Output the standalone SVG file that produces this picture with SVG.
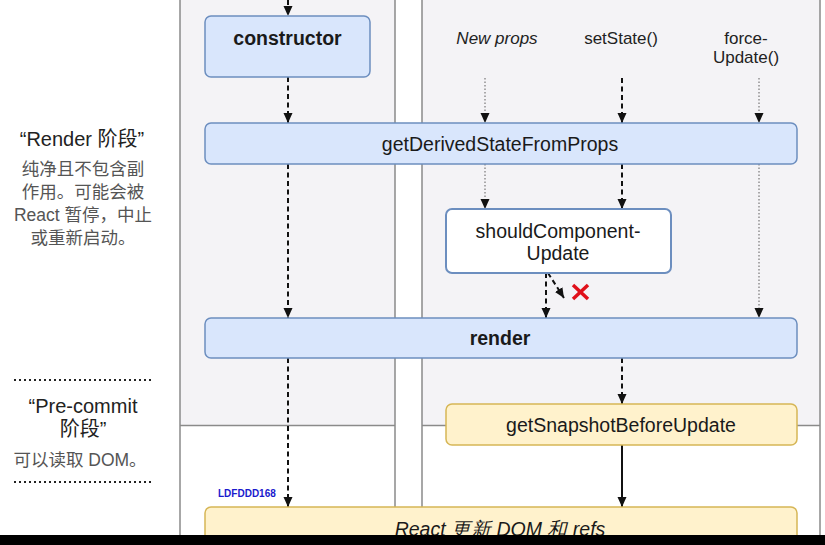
<svg xmlns="http://www.w3.org/2000/svg" width="825" height="545" viewBox="0 0 825 545">
<style>
.panel{fill:#f4f3f6}
.pline{stroke:#8a8a8a;stroke-width:1.5;fill:none}
.blue{fill:#d9e6fc;stroke:#6c8ebf;stroke-width:1.5}
.white{fill:#ffffff;stroke:#6c8ebf;stroke-width:2}
.yellow{fill:#fff2cc;stroke:#d6b656;stroke-width:1.5}
.bt{font-family:"Liberation Sans",Arial,sans-serif;font-size:19.5px;fill:#1a1a1a;text-anchor:middle}
.bold{font-weight:bold}
.lbl{font-family:"Liberation Sans",Arial,sans-serif;font-size:17px;fill:#222;text-anchor:middle}
.head{font-family:"Liberation Sans","Noto Sans CJK SC",sans-serif;font-size:20px;fill:#222;text-anchor:middle}
.body{font-family:"Liberation Sans","Noto Sans CJK SC",sans-serif;font-size:17.5px;fill:#555;text-anchor:middle}
.dash{stroke:#111;stroke-width:2;stroke-dasharray:5 3.5;fill:none}
.dot{stroke:#777;stroke-width:1.2;stroke-dasharray:1.5 2;fill:none}
.solid{stroke:#111;stroke-width:2;fill:none}
.sep{stroke:#222;stroke-width:2;stroke-dasharray:2 3}
</style>
<defs>
<marker id="ah" viewBox="0 0 10 10" refX="10" refY="5" markerWidth="10" markerHeight="10" markerUnits="userSpaceOnUse" orient="auto">
<path d="M0,0.5 L10,5 L0,9.5 z" fill="#111"/>
</marker>
</defs>
<rect width="825" height="545" fill="#ffffff"/>
<g id="panels">
<rect class="panel" x="180" y="0" width="215" height="425"/>
<rect class="panel" x="422" y="0" width="398" height="425"/>
<line class="pline" x1="180" y1="0" x2="180" y2="535"/>
<line class="pline" x1="395" y1="0" x2="395" y2="535"/>
<line class="pline" x1="422" y1="0" x2="422" y2="535"/>
<line class="pline" x1="820" y1="0" x2="820" y2="535"/>
<line class="pline" x1="180" y1="425.5" x2="395" y2="425.5"/>
<line class="pline" x1="422" y1="425.5" x2="820" y2="425.5"/>
</g>
<g id="left-labels">
<text class="head" x="82" y="146">“Render 阶段”</text>
<text class="body" x="83" y="175">纯净且不包含副</text>
<text class="body" x="83" y="198">作用。可能会被</text>
<text class="body" x="83" y="221">React 暂停，中止</text>
<text class="body" x="83" y="244">或重新启动。</text>
<line class="sep" x1="14" y1="380" x2="153" y2="380"/>
<text class="head" x="83" y="413">“Pre-commit</text>
<text class="head" x="83" y="436">阶段”</text>
<text class="body" x="80" y="466">可以读取 DOM。</text>
<line class="sep" x1="14" y1="482" x2="153" y2="482"/>
</g>
<g id="triggers">
<text class="lbl" x="497" y="44" font-style="italic">New props</text>
<text class="lbl" x="621" y="44">setState()</text>
<text class="lbl" x="746" y="44">force-</text>
<text class="lbl" x="746" y="63">Update()</text>
</g>
<g id="connectors">
<line class="dash" x1="288" y1="0" x2="288" y2="16" marker-end="url(#ah)"/>
<line class="dash" x1="288" y1="77" x2="288" y2="123" marker-end="url(#ah)"/>
<line class="dash" x1="288" y1="164" x2="288" y2="318" marker-end="url(#ah)"/>
<line class="dash" x1="288" y1="358" x2="288" y2="507" marker-end="url(#ah)"/>
<line class="dot" x1="485" y1="78" x2="485" y2="123" marker-end="url(#ah)"/>
<line class="dash" x1="622" y1="78" x2="622" y2="123" marker-end="url(#ah)"/>
<line class="dot" x1="759" y1="78" x2="759" y2="123" marker-end="url(#ah)"/>
<line class="dot" x1="485" y1="164" x2="485" y2="209" marker-end="url(#ah)"/>
<line class="dash" x1="622" y1="164" x2="622" y2="209" marker-end="url(#ah)"/>
<line class="dot" x1="759" y1="164" x2="759" y2="318" marker-end="url(#ah)"/>
<line class="dash" x1="546" y1="273" x2="546" y2="318" marker-end="url(#ah)"/>
<line class="dash" x1="548" y1="273" x2="564" y2="298" marker-end="url(#ah)"/>
<line class="dash" x1="622" y1="358" x2="622" y2="404" marker-end="url(#ah)"/>
<line class="solid" x1="622" y1="445" x2="622" y2="507" marker-end="url(#ah)"/>
<g id="cross" stroke="#e0101a" stroke-width="3.5" stroke-linecap="butt">
<line x1="573" y1="285" x2="588" y2="299"/>
<line x1="588" y1="285" x2="573" y2="299"/>
</g>
</g>
<g id="constructor">
<rect class="blue" x="205" y="16" width="165" height="61" rx="6"/>
<text class="bt bold" x="287.5" y="45">constructor</text>
</g>
<g id="getDerivedStateFromProps">
<rect class="blue" x="205" y="123" width="592" height="41" rx="6"/>
<text class="bt" x="500" y="151">getDerivedStateFromProps</text>
</g>
<g id="shouldComponentUpdate">
<rect class="white" x="446" y="209" width="225" height="64" rx="6"/>
<text class="bt" x="558" y="238">shouldComponent-</text>
<text class="bt" x="558" y="260">Update</text>
</g>
<g id="render">
<rect class="blue" x="205" y="318" width="592" height="40" rx="6"/>
<text class="bt bold" x="500" y="345">render</text>
</g>
<g id="getSnapshotBeforeUpdate">
<rect class="yellow" x="446" y="404" width="351" height="41" rx="6"/>
<text class="bt" x="621" y="432">getSnapshotBeforeUpdate</text>
</g>
<g id="react-update">
<rect class="yellow" x="205" y="507" width="592" height="45" rx="6"/>
<text class="bt" x="500" y="536" font-style="italic" font-family="'Liberation Sans','Noto Sans CJK SC',sans-serif">React 更新 DOM 和 refs</text>
</g>
<text x="218" y="497" font-family="'Liberation Sans',Arial,sans-serif" font-size="10px" font-weight="bold" fill="#1a1acd">LDFDDD168</text>
<rect x="0" y="535" width="825" height="10" fill="#000"/>
</svg>
